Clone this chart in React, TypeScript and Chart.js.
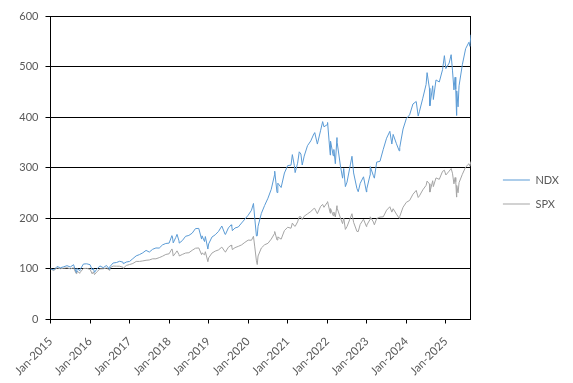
import React, { useEffect, useRef } from "react";
import { Chart, registerables } from "chart.js";

Chart.register(...registerables);

// month index from Jan-2015 (0 = start of Jan 2015; m+1 = end of month m)
const monthPos: number[] = [
  0, 1, 2, 3, 4, 5, 6, 7, 7.8, 8, 8.95, 9, 10, 11, 12,
  12.65, 13, 13.35, 14, 15, 16, 17, 17.9, 18, 19, 20, 21, 22, 22.1, 23, 24,
  25, 26, 27, 28, 29, 30, 31, 32, 33, 34, 35, 36,
  36.85, 37, 37.25, 38, 38.4, 39, 39.07, 40, 41, 42, 43, 44, 45, 45.85, 46, 46.75, 47, 47.77, 48,
  49, 50, 51, 52, 53, 53.1, 54, 54.85, 55, 55.2, 56, 57, 58, 59, 60,
  61, 61.6, 62, 62.5, 62.75, 63, 64, 65, 66, 67, 68, 68.05, 68.75, 69, 70, 71, 72,
  73, 73.4, 74, 74.25, 75, 75.5, 76, 76.4, 77, 78, 79, 80, 80.2, 81, 82, 82.6, 83, 84,
  84.1, 84.9, 85, 85.8, 86, 86.45, 86.95, 87, 88, 88.65, 89, 89.5, 90, 91, 91.5, 92, 93, 93.4, 94, 95, 95.9, 96,
  97, 97.05, 98, 98.3, 99, 100, 101, 102, 103, 103.6, 104, 105, 105.85, 106, 107, 108,
  109, 110, 111, 111.6, 112, 113, 114, 114.3, 115, 115.15, 116, 116.2, 117, 118, 119, 119.55, 120,
  121, 121.6, 122, 122.45, 122.8, 123, 123.25, 123.3, 123.7, 124, 125, 126, 127, 127.3, 127.6,
];

const ndxValues: number[] = [
  100, 98.0, 104.9, 102.3, 104.2, 106.4, 103.8, 108.3, 93.2, 100.9, 96.5, 98.7, 109.7, 110.1, 108.4,
  98.0, 101.0, 93.2, 99.2, 105.9, 102.5, 106.8, 99.2, 104.3, 111.7, 112.6, 115.1, 113.3, 110.3, 113.6, 114.8,
  120.3, 125.8, 128.3, 131.8, 136.6, 133.3, 138.8, 141.4, 141.2, 147.5, 150.3, 151.0,
  165.8, 164.1, 151.5, 161.9, 168.3, 155.4, 151.0, 155.9, 164.5, 166.2, 170.7, 179.7, 180.1, 159.0, 165.4, 154.1, 164.0, 139.3, 149.4,
  163.0, 167.5, 174.2, 184.8, 168.3, 168.2, 181.1, 187.2, 185.3, 175.6, 180.9, 182.9, 190.8, 198.4, 206.2,
  216.0, 229.4, 199.8, 165.1, 165.4, 184.4, 209.8, 225.6, 239.8, 257.4, 285.9, 293.2, 251.0, 269.5, 260.9, 289.6, 304.3,
  305.1, 326.0, 304.7, 290.4, 309.0, 331.5, 327.2, 305.4, 323.1, 343.6, 353.1, 367.9, 369.5, 346.8, 374.2, 391.2, 380.9, 385.3,
  389.5, 325.1, 352.5, 323.8, 336.1, 308.0, 359.7, 350.3, 303.5, 279.4, 298.5, 262.7, 271.6, 305.6, 322.7, 289.7, 259.0, 252.6, 269.2, 282.1, 252.1, 258.3,
  285.7, 302.2, 284.3, 279.4, 311.2, 312.7, 336.5, 358.4, 372.0, 346.9, 365.9, 347.4, 333.3, 340.2, 376.5, 397.2,
  404.6, 426.0, 431.0, 402.2, 411.7, 437.6, 464.7, 488.0, 457.1, 422.5, 462.1, 434.9, 473.6, 469.5, 494.1, 521.6, 496.0,
  507.0, 523.5, 493.0, 453.9, 478.9, 455.1, 403.4, 452.0, 420.4, 462.0, 503.8, 535.4, 548.1, 540.0, 563.0,
];

const spxValues: number[] = [
  100, 96.9, 102.2, 100.4, 101.3, 102.3, 100.2, 102.2, 90.7, 95.8, 91.4, 93.3, 101.0, 101.0, 99.3,
  90.3, 94.2, 88.8, 93.8, 100.0, 100.3, 101.8, 97.2, 101.9, 105.6, 105.4, 105.3, 103.3, 101.3, 106.8, 108.7,
  110.7, 114.8, 114.8, 115.8, 117.1, 117.7, 120.0, 120.0, 122.3, 125.1, 128.6, 129.9,
  139.5, 137.2, 125.4, 131.8, 135.7, 128.3, 125.6, 128.6, 131.4, 132.0, 136.8, 140.9, 141.5, 128.3, 131.7, 127.9, 134.0, 114.2, 121.8,
  131.3, 135.2, 137.6, 143.1, 133.7, 133.3, 142.9, 147.0, 144.8, 138.2, 142.1, 144.6, 147.5, 152.5, 156.9,
  156.7, 164.5, 143.5, 115.9, 108.6, 125.6, 141.4, 147.8, 150.6, 158.9, 170.0, 173.9, 157.2, 163.3, 158.8, 175.9, 182.4,
  180.4, 190.6, 185.1, 184.0, 193.0, 203.3, 203.1, 197.3, 204.2, 208.8, 213.5, 219.7, 219.5, 209.2, 223.7, 227.5, 221.8, 231.5,
  233.0, 210.1, 219.3, 205.2, 212.4, 202.7, 225.0, 220.0, 200.7, 189.5, 200.7, 178.1, 183.8, 200.6, 209.1, 192.1, 174.2, 173.7, 188.1, 198.2, 183.7, 186.5,
  198.0, 203.0, 192.8, 187.2, 199.6, 202.5, 203.0, 216.1, 222.9, 212.3, 219.0, 208.3, 200.0, 203.7, 221.9, 231.7,
  235.4, 247.5, 255.2, 241.2, 244.6, 256.3, 265.2, 273.6, 268.2, 251.9, 274.3, 262.7, 279.9, 277.1, 293.0, 295.0, 285.7,
  293.4, 298.4, 289.2, 268.2, 280.6, 272.6, 242.0, 265.0, 250.5, 270.5, 287.1, 301.4, 307.9, 303.0, 312.5,
];

const tickLabels: string[] = [
  "Jan-2015", "Jan-2016", "Jan-2017", "Jan-2018", "Jan-2019", "Jan-2020",
  "Jan-2021", "Jan-2022", "Jan-2023", "Jan-2024", "Jan-2025",
];

const seriesNames: string[] = ["NDX", "SPX"];

export default function App() {
  const ref = useRef<HTMLCanvasElement | null>(null);

  useEffect(() => {
    if (!ref.current) return;
    const font = { family: "Lato, 'Open Sans', sans-serif", size: 11 };
    const xFont = { family: "Lato, 'Open Sans', sans-serif", size: 11.5 };
    const textColor = "#595959";
    const chart = new Chart(ref.current, {
      type: "line",
      data: {
        datasets: [
          {
            label: seriesNames[0],
            data: monthPos.map((x, i) => ({ x, y: ndxValues[i] })),
            borderColor: "#5B9BD5",
            backgroundColor: "#5B9BD5",
            borderWidth: 1,
            pointRadius: 0,
            tension: 0,
          },
          {
            label: seriesNames[1],
            data: monthPos.map((x, i) => ({ x, y: spxValues[i] })),
            borderColor: "#A5A5A5",
            backgroundColor: "#A5A5A5",
            borderWidth: 1,
            pointRadius: 0,
            tension: 0,
          },
        ],
      },
      options: {
        responsive: false,
        animation: false,
        layout: { padding: { top: 16, right: 4, bottom: 0, left: 0 } },
        plugins: {
          tooltip: { enabled: false },
          legend: {
            position: "right",
            align: "start",
            title: {
              display: true,
              text: "",
              font: { size: 10, lineHeight: 1 },
              padding: { top: 135.5, bottom: 0 },
            },
            labels: {
              usePointStyle: true,
              pointStyle: "line",
              pointStyleWidth: 27,
              padding: 13,
              color: textColor,
              font,
            },
          },
        },
        scales: {
          x: {
            type: "linear",
            min: 0,
            max: 127.6,
            afterFit: (s: any) => {
              s.height = 63.5;
            },
            grid: {
              drawOnChartArea: false,
              drawTicks: true,
              tickLength: 4,
              color: "#000000",
            },
            border: { display: true, color: "#000000", width: 1 },
            ticks: {
              stepSize: 12,
              autoSkip: false,
              maxRotation: 45,
              minRotation: 45,
              color: textColor,
              font: xFont,
              padding: 11,
              callback: (v: any) => {
                const n = Number(v);
                if (Math.abs(n / 12 - Math.round(n / 12)) > 1e-6) return null;
                return tickLabels[Math.round(n / 12)] ?? null;
              },
            },
          },
          y: {
            min: 0,
            max: 600,
            afterFit: (s: any) => {
              s.width = 50.5;
            },
            grid: { color: "#000000", tickLength: 5, lineWidth: 1 },
            border: { display: true, color: "#000000", width: 1 },
            ticks: { stepSize: 100, color: textColor, font, padding: 7 },
          },
          y2: {
            position: "right",
            min: 0,
            max: 600,
            afterFit: (s: any) => {
              s.width = 19;
            },
            grid: { drawOnChartArea: false, drawTicks: false },
            border: { display: true, color: "#000000", width: 1 },
            ticks: { display: false },
          },
        },
      },
    } as any);
    return () => chart.destroy();
  }, []);

  return (
    <div style={{ position: "absolute", left: 0, top: 0, width: 573, height: 383, background: "#ffffff" }}>
      <canvas ref={ref} width={573} height={383} />
    </div>
  );
}
